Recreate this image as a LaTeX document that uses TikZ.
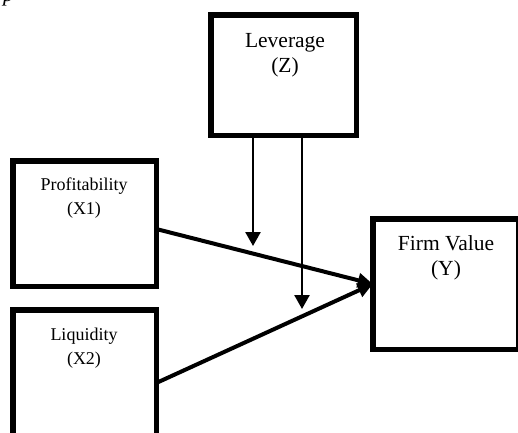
\documentclass[tikz,border=0pt]{standalone}
\usepackage{fontspec}
\setmainfont{Liberation Serif}
\usetikzlibrary{arrows.meta}
\begin{document}
\begin{tikzpicture}[x=1pt,y=-1pt,
  box/.style={draw=black,line width=5.5pt,fill=white,rectangle,inner sep=0pt,outer sep=0pt},
  bigtxt/.style={anchor=base,inner sep=0pt,font=\fontsize{21.5}{25}\selectfont},
  smalltxt/.style={anchor=base,inner sep=0pt,font=\fontsize{18}{24}\selectfont},
  thickarrow/.style={line width=4pt,-{Triangle[length=15pt,width=14pt]}},
  thinarrow/.style={line width=2.5pt,-{Triangle[length=14pt,width=15pt]}}]
\useasboundingbox (0,0) rectangle (518,432);
\clip (0,0) rectangle (518,432);
% fragment of caption letter
\node[anchor=base west,inner sep=0pt,font=\fontsize{21.5}{25}\selectfont\itshape] (cap) at (3,1.5) {p};
% boxes (positions are line centres)
\node[box,minimum width=145.5pt,minimum height=120.5pt] (lev) at (283.5,75) {};
\node[box,minimum width=143.5pt,minimum height=125.5pt] (prof) at (84.5,223.5) {};
\node[box,minimum width=143.5pt,minimum height=146.5pt] (liq) at (84.5,383) {};
\node[box,minimum width=145.5pt,minimum height=130.5pt] (fv) at (445.5,284) {};
% texts
\node[bigtxt] (levt1) at (285,47) {Leverage};
\node[bigtxt] (levt2) at (285,72) {(Z)};
\node[smalltxt] (proft1) at (84,190) {Profitability};
\node[smalltxt] (proft2) at (84,214) {(X1)};
\node[smalltxt] (liqt1) at (84,340) {Liquidity};
\node[smalltxt] (liqt2) at (84,364) {(X2)};
\node[bigtxt] (fvt1) at (446,250) {Firm Value};
\node[bigtxt] (fvt2) at (446,275) {(Y)};
% connectors
\draw[thickarrow] ([yshift=-5.5pt]prof.east) -- (fv.west);
\draw[thickarrow] (liq.east) -- (fv.west);
\coordinate (t1) at (253,246);
\coordinate (t2) at (302,309);
\draw[thinarrow] (lev.south -| t1) -- (t1);
\draw[thinarrow] (lev.south -| t2) -- (t2);
\end{tikzpicture}
\end{document}
